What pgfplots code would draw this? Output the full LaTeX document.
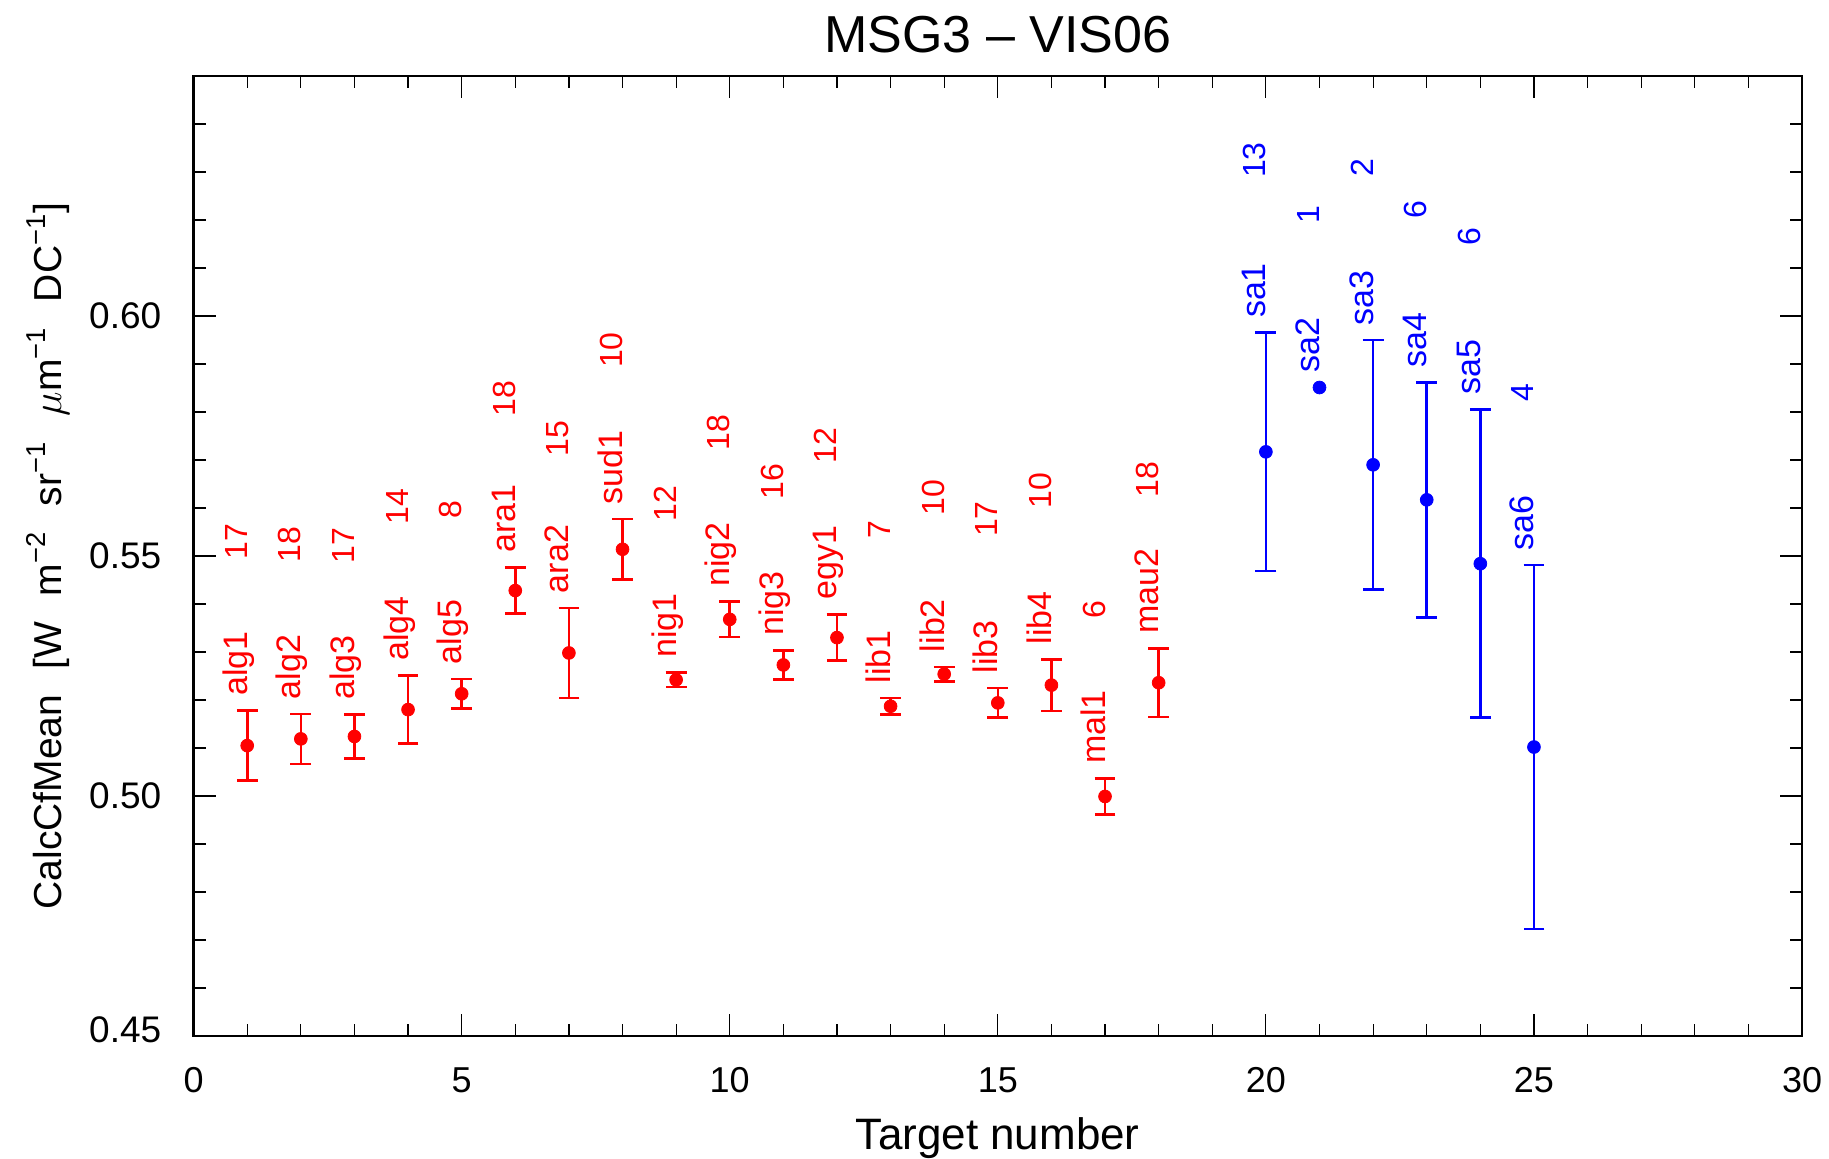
\documentclass[border=0pt]{standalone}
\usepackage{fontspec}
\setmainfont{Liberation Sans}
\usepackage{pgfplots}
\usepackage{pgfplotstable}
\pgfplotsset{compat=1.18}
\pgfplotstableread{
x y e
1 0.5105 0.0073
2 0.5119 0.0052
3 0.5124 0.0046
4 0.5180 0.0071
5 0.5213 0.0031
6 0.5428 0.0048
7 0.5298 0.0094
8 0.5514 0.0063
9 0.5242 0.0015
10 0.5368 0.0037
11 0.5273 0.0030
12 0.5330 0.0048
13 0.5187 0.0017
14 0.5254 0.0015
15 0.5194 0.0031
16 0.5231 0.0054
17 0.4999 0.0037
18 0.5236 0.0071
}\redtab
\pgfplotstableread{
x y e
20 0.5717 0.0248
22 0.5690 0.0260
23 0.5617 0.0245
24 0.5484 0.0321
25 0.5102 0.0379
}\bluetab
\pgfplotstableread{
x y
21 0.5851
}\bluesingle
\tikzset{
  lab/.style={rotate=90,anchor=base west,inner sep=0pt,font=\fontsize{17}{17}\selectfont},
  num/.style={rotate=90,anchor=base,inner sep=0pt,font=\fontsize{16}{16}\selectfont},
}
\newcommand{\wsp}{\hspace{0.65em}}
\begin{document}
\begin{tikzpicture}
\path[use as bounding box] (0,0) rectangle (914.5pt,579pt);
\begin{axis}[
  at={(96.8pt,61pt)}, anchor=south west,
  scale only axis, width=804.2pt, height=480pt,
  xmin=0, xmax=30, ymin=0.45, ymax=0.65,
  xtick={0,5,10,15,20,25,30}, minor x tick num=4,
  ytick={0.45,0.50,0.55,0.60},
  yticklabels={\raisebox{6pt}{0.45},0.50,0.55,0.60},
  minor ytick={0.46,0.47,0.48,0.49,0.51,0.52,0.53,0.54,0.56,0.57,0.58,0.59,0.61,0.62,0.63,0.64,0.65},
  tick align=inside,
  major tick length=11pt, minor tick length=6pt,
  every tick/.style={black, line width=0.6pt},
  axis line style={line width=1.3pt},
  xticklabel style={anchor=north, inner sep=0pt, yshift=-15.5pt, font=\fontsize{18}{18}\selectfont},
  yticklabel style={anchor=east, inner sep=0pt, xshift=-16pt, font=\fontsize{18.5}{18.5}\selectfont},
  /pgf/number format/assume math mode=true,
  clip=false,
]
\addplot[only marks, mark=*, mark size=3.2pt, color=red,
  error bars/.cd, y dir=both, y explicit,
  error bar style={line width=1.3pt, red},
  error mark options={rotate=90, mark size=5.2pt, line width=1.3pt, red}]
  table[x=x, y=y, y error=e] {\redtab};
\addplot[only marks, mark=*, mark size=3.2pt, color=blue,
  error bars/.cd, y dir=both, y explicit,
  error bar style={line width=1.3pt, blue},
  error mark options={rotate=90, mark size=5.2pt, line width=1.3pt, blue}]
  table[x=x, y=y, y error=e] {\bluetab};
\addplot[only marks, mark=*, mark size=3.2pt, color=blue] table[x=x, y=y] {\bluesingle};

\node[lab,text=red] at (axis cs:1,0.5208) {alg1};
\node[num,text=red] at (axis cs:1,0.5530) {17};
\node[lab,text=red] at (axis cs:2,0.5201) {alg2};
\node[num,text=red] at (axis cs:2,0.5523) {18};
\node[lab,text=red] at (axis cs:3,0.5200) {alg3};
\node[num,text=red] at (axis cs:3,0.5522) {17};
\node[lab,text=red] at (axis cs:4,0.5281) {alg4};
\node[num,text=red] at (axis cs:4,0.5603) {14};
\node[lab,text=red] at (axis cs:5,0.5274) {alg5};
\node[num,text=red] at (axis cs:5,0.5596) {8};
\node[lab,text=red] at (axis cs:6,0.5506) {ara1};
\node[num,text=red] at (axis cs:6,0.5828) {18};
\node[lab,text=red] at (axis cs:7,0.5422) {ara2};
\node[num,text=red] at (axis cs:7,0.5744) {15};
\node[lab,text=red] at (axis cs:8,0.5607) {sud1};
\node[num,text=red] at (axis cs:8,0.5929) {10};
\node[lab,text=red] at (axis cs:9,0.5287) {nig1};
\node[num,text=red] at (axis cs:9,0.5609) {12};
\node[lab,text=red] at (axis cs:10,0.5435) {nig2};
\node[num,text=red] at (axis cs:10,0.5757) {18};
\node[lab,text=red] at (axis cs:11,0.5333) {nig3};
\node[num,text=red] at (axis cs:11,0.5655) {16};
\node[lab,text=red] at (axis cs:12,0.5408) {egy1};
\node[num,text=red] at (axis cs:12,0.5730) {12};
\node[lab,text=red] at (axis cs:13,0.5234) {lib1};
\node[num,text=red] at (axis cs:13,0.5556) {7};
\node[lab,text=red] at (axis cs:14,0.5299) {lib2};
\node[num,text=red] at (axis cs:14,0.5621) {10};
\node[lab,text=red] at (axis cs:15,0.5255) {lib3};
\node[num,text=red] at (axis cs:15,0.5577) {17};
\node[lab,text=red] at (axis cs:16,0.5315) {lib4};
\node[num,text=red] at (axis cs:16,0.5637) {10};
\node[lab,text=red] at (axis cs:17,0.5066) {mal1};
\node[num,text=red] at (axis cs:17,0.5388) {6};
\node[lab,text=red] at (axis cs:18,0.5337) {mau2};
\node[num,text=red] at (axis cs:18,0.5659) {18};

\node[lab,text=blue] at (axis cs:20,0.5995) {sa1};
\node[num,text=blue] at (axis cs:20,0.6325) {13};
\node[lab,text=blue] at (axis cs:21,0.5881) {sa2};
\node[num,text=blue] at (axis cs:21,0.6211) {1};
\node[lab,text=blue] at (axis cs:22,0.5980) {sa3};
\node[num,text=blue] at (axis cs:22,0.6310) {2};
\node[lab,text=blue] at (axis cs:23,0.5892) {sa4};
\node[num,text=blue] at (axis cs:23,0.6222) {6};
\node[lab,text=blue] at (axis cs:24,0.5835) {sa5};
\node[num,text=blue] at (axis cs:24,0.6165) {6};
\node[lab,text=blue] at (axis cs:25,0.5511) {sa6};
\node[num,text=blue] at (axis cs:25,0.5841) {4};
\end{axis}
\node[font=\fontsize{26}{26}\selectfont, anchor=center] at (498.9pt,561.5pt) {MSG3 – VIS06};
\node[font=\fontsize{22}{22}\selectfont, anchor=base] at (498.9pt,4.5pt) {Target number};
\node[font=\fontsize{19.5}{19.5}\selectfont, anchor=base, rotate=90] at (30.5pt,301pt)
  {CalcCfMean\wsp[W\wsp m\textsuperscript{−2}\wsp sr\textsuperscript{−1}\wsp $\mu$m\textsuperscript{−1}\wsp DC\textsuperscript{−1}]};
\end{tikzpicture}
\end{document}
